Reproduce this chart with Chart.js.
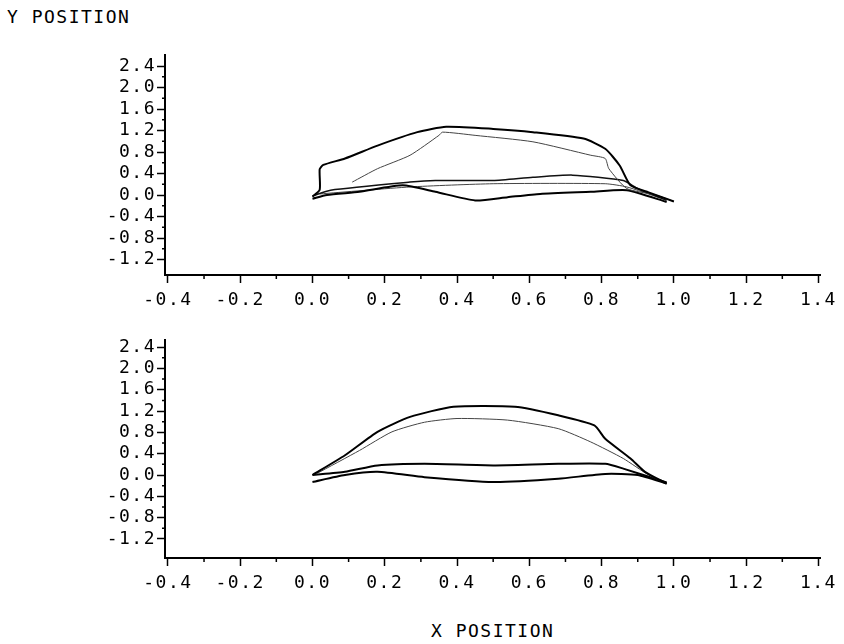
<!DOCTYPE html>
<html>
<head>
<meta charset="utf-8">
<script src="https://cdn.jsdelivr.net/npm/chart.js"></script>
<style>
body { margin: 0; background: #fff; width: 844px; height: 644px; position: relative; overflow: hidden; font-family: "DejaVu Sans Mono", monospace; }
.lbl { position: absolute; font-size: 18px; letter-spacing: 1.5px; color: #000; line-height: 20px; }
canvas { position: absolute; left: 0; }
</style>
</head>
<body>
<div class="lbl" style="left:7px;top:7px">Y POSITION</div>
<div class="lbl" style="left:431px;top:621px">X POSITION</div>
<canvas id="topChart" width="844" height="320" style="top:0"></canvas>
<canvas id="bottomChart" width="844" height="324" style="top:320px"></canvas>
<script>
// tick labels
let xTicks = [-0.4, -0.2, 0.0, 0.2, 0.4, 0.6, 0.8, 1.0, 1.2, 1.4];
let yTicks = [-1.2, -0.8, -0.4, 0.0, 0.4, 0.8, 1.2, 1.6, 2.0, 2.4];

// top plot, [x, y]
let topOuter = [[0.0, -0.03], [0.02, 0.1], [0.02, 0.48], [0.03, 0.56], [0.09, 0.68], [0.18, 0.92], [0.29, 1.17], [0.37, 1.27], [0.5, 1.23], [0.61, 1.17], [0.75, 1.05], [0.81, 0.86], [0.85, 0.55], [0.88, 0.18], [0.93, 0.05], [1.0, -0.12]];
let topInner = [[0.11, 0.24], [0.18, 0.49], [0.27, 0.74], [0.35, 1.11], [0.36, 1.17], [0.45, 1.11], [0.61, 0.99], [0.77, 0.74], [0.81, 0.68], [0.82, 0.49], [0.87, 0.12], [0.95, 0.0], [1.0, -0.12]];
let topLowA = [[0.0, -0.07], [0.04, 0.0], [0.13, 0.06], [0.25, 0.18], [0.34, 0.06], [0.45, -0.1], [0.54, -0.04], [0.63, 0.02], [0.77, 0.06], [0.87, 0.09], [0.98, -0.13]];
let topLowB = [[0.0, -0.02], [0.05, 0.09], [0.27, 0.24], [0.34, 0.27], [0.5, 0.27], [0.61, 0.33], [0.72, 0.37], [0.86, 0.27], [0.9, 0.12], [0.98, -0.1]];
let topLowC = [[0.02, 0.02], [0.27, 0.15], [0.5, 0.21], [0.81, 0.21], [0.87, 0.15], [0.96, -0.05]];

// bottom plot, [x, y]
let botOuter = [[0.0, 0.0], [0.09, 0.37], [0.18, 0.81], [0.27, 1.09], [0.39, 1.28], [0.56, 1.28], [0.68, 1.12], [0.78, 0.93], [0.81, 0.68], [0.88, 0.31], [0.92, 0.06], [0.98, -0.16]];
let botInner = [[0.01, 0.02], [0.13, 0.46], [0.22, 0.81], [0.31, 0.99], [0.4, 1.06], [0.54, 1.03], [0.68, 0.87], [0.77, 0.62], [0.86, 0.31], [0.93, 0.0], [0.98, -0.16]];
let botLowA = [[0.0, 0.0], [0.09, 0.06], [0.18, 0.18], [0.31, 0.21], [0.5, 0.18], [0.68, 0.21], [0.81, 0.21], [0.86, 0.12], [0.98, -0.14]];
let botLowB = [[0.0, -0.13], [0.09, 0.0], [0.18, 0.06], [0.31, -0.04], [0.5, -0.13], [0.68, -0.07], [0.81, 0.02], [0.9, 0.0], [0.98, -0.16]];

function toPts(arr) {
  return arr.map(function (p) { return { x: p[0], y: p[1] }; });
}

function line(arr, width, color) {
  return {
    data: toPts(arr),
    showLine: true,
    borderColor: color,
    borderWidth: width,
    pointRadius: 0,
    tension: 0.2,
    fill: false,
  };
}

// plotter style spacing for the tick labels
let spacing = {
  id: 'spacing',
  beforeLayout(chart) { chart.ctx.letterSpacing = '1.5px'; },
  beforeDraw(chart) { chart.ctx.letterSpacing = '1.5px'; },
};

// small ticks between the labelled ones
let minorTicks = {
  id: 'minorTicks',
  afterDraw(chart) {
    let ctx = chart.ctx;
    let xs = chart.scales.x;
    let ys = chart.scales.y;
    ctx.save();
    ctx.strokeStyle = '#000';
    ctx.lineWidth = 1.5;
    ctx.beginPath();
    for (let v = -0.3; v < 1.4; v += 0.2) {
      let px = xs.getPixelForValue(v);
      ctx.moveTo(px, xs.top);
      ctx.lineTo(px, xs.top + 4);
    }
    for (let v = -1.0; v < 2.4; v += 0.4) {
      let py = ys.getPixelForValue(v);
      ctx.moveTo(ys.right, py);
      ctx.lineTo(ys.right - 3, py);
    }
    ctx.stroke();
    ctx.restore();
  },
};

function makeChart(id, datasets, yMin, yMax, padTop, xHeight) {
  return new Chart(document.getElementById(id), {
    type: 'scatter',
    data: { datasets: datasets },
    plugins: [spacing, minorTicks],
    options: {
      responsive: false,
      animation: false,
      layout: { padding: { top: padTop, right: 14, left: 0, bottom: 0 } },
      plugins: { legend: { display: false }, tooltip: { enabled: false } },
      scales: {
        x: {
          type: 'linear',
          min: -0.408,
          max: 1.405,
          afterBuildTicks: (s) => { s.ticks = xTicks.map((v) => ({ value: v })); },
          afterFit: (s) => { s.height = xHeight; },
          border: { display: true, color: '#000', width: 2 },
          grid: { drawOnChartArea: false, drawTicks: true, tickLength: 8, tickColor: '#000', tickWidth: 1.5 },
          ticks: {
            color: '#000',
            padding: 7,
            autoSkip: false,
            maxRotation: 0,
            font: { family: 'DejaVu Sans Mono', size: 18 },
            callback: (v) => Number(v).toFixed(1),
          },
        },
        y: {
          type: 'linear',
          min: yMin,
          max: yMax,
          afterBuildTicks: (s) => { s.ticks = yTicks.map((v) => ({ value: v })); },
          afterFit: (s) => { s.width = 165; },
          border: { display: true, color: '#000', width: 2 },
          grid: { drawOnChartArea: false, drawTicks: true, tickLength: 8, tickColor: '#000', tickWidth: 1.5 },
          ticks: {
            color: '#000',
            padding: 1,
            autoSkip: false,
            font: { family: 'DejaVu Sans Mono', size: 18 },
            callback: (v) => Number(v).toFixed(1),
          },
        },
      },
    },
  });
}

makeChart('topChart', [
  line(topOuter, 2, '#000'),
  line(topInner, 1, '#444'),
  line(topLowA, 2, '#000'),
  line(topLowB, 1.5, '#111'),
  line(topLowC, 1, '#444'),
], -1.488, 2.605, 55, 45);

makeChart('bottomChart', [
  line(botOuter, 2, '#000'),
  line(botInner, 1, '#444'),
  line(botLowA, 2, '#000'),
  line(botLowB, 2, '#000'),
], -1.557, 2.533, 20, 86);
</script>
</body>
</html>
